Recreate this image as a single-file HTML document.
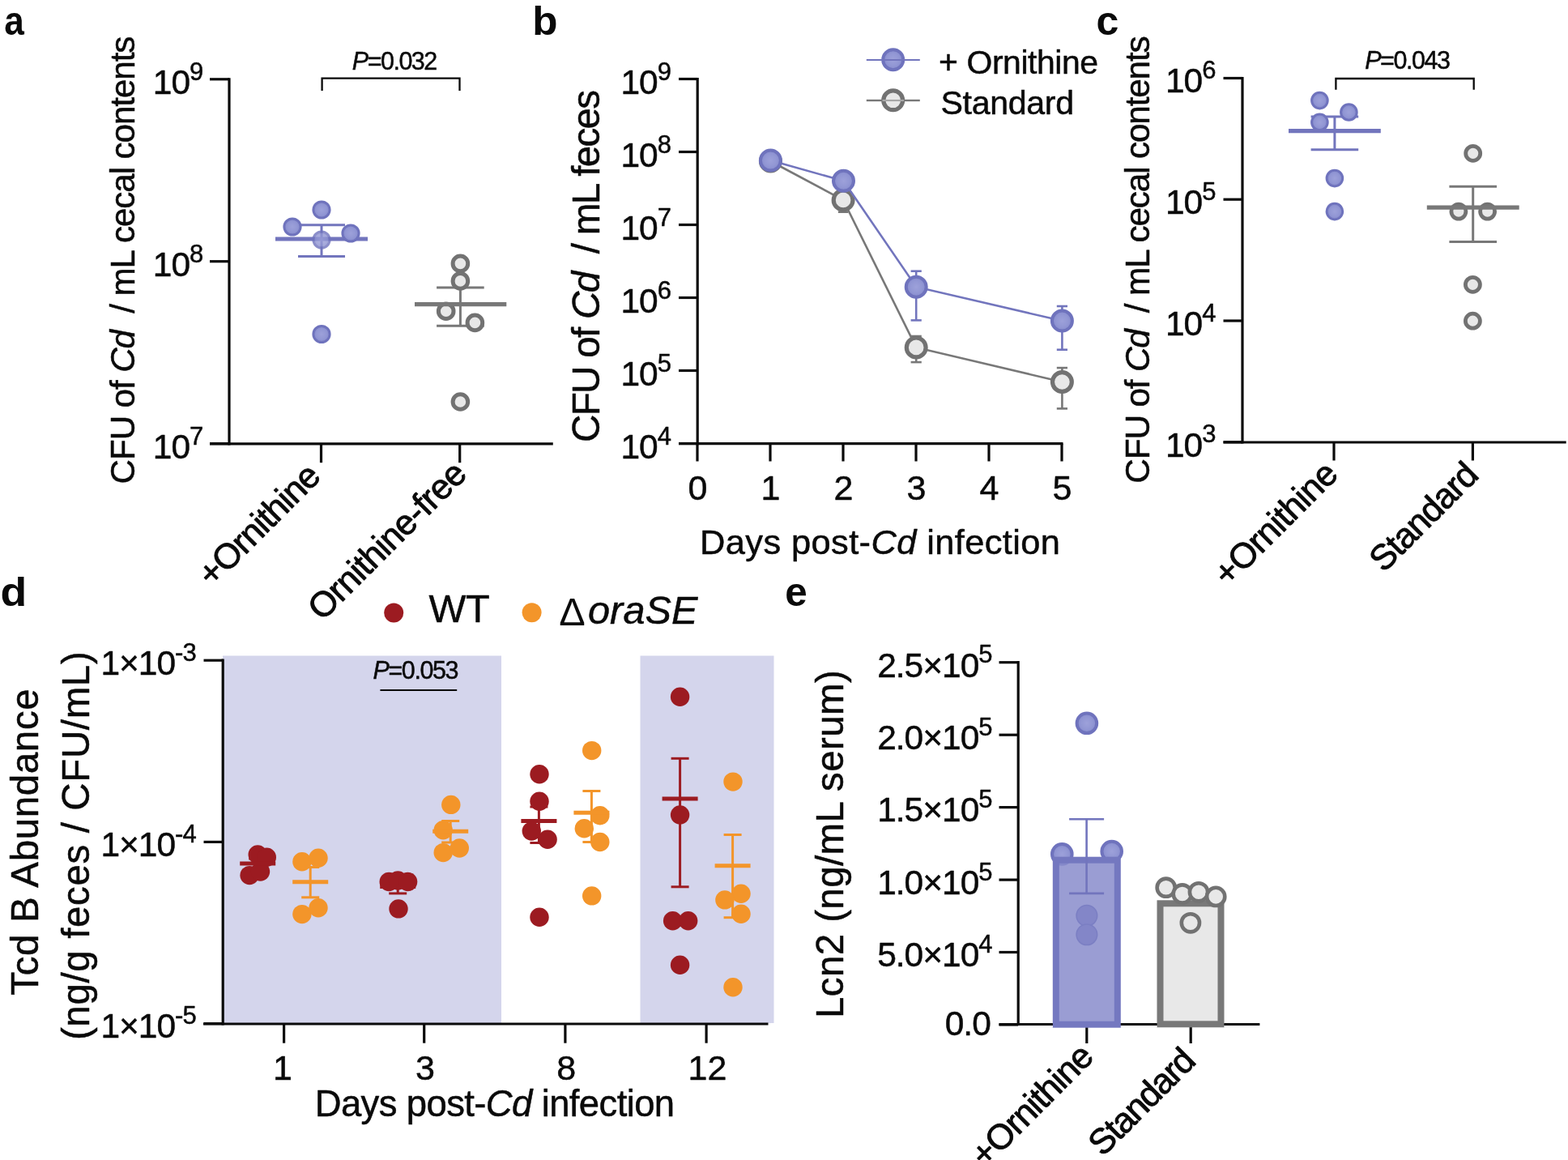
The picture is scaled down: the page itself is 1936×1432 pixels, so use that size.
<!DOCTYPE html>
<html><head><meta charset="utf-8"><title>Figure</title>
<style>html,body{margin:0;padding:0;background:#fff;overflow:hidden;} svg{display:block;} text{font-family:'Liberation Sans', Arial, Helvetica, sans-serif;}</style>
</head><body>
<svg width="1936" height="1432" viewBox="0 0 1936 1432">
<defs><radialGradient id="bg" cx="0.5" cy="0.5" r="0.5"><stop offset="0" stop-color="#9da1da"/><stop offset="0.6" stop-color="#9297d4"/><stop offset="1" stop-color="#868bcd"/></radialGradient></defs>
<rect width="1936" height="1432" fill="#fff"/>
<text  transform="translate(5.30,43.00) scale(0.8878,1.0000)" font-size="49.76" text-anchor="start" font-weight="bold" fill="#0a0a0a">a</text>
<line x1="283.0" y1="96.2" x2="283.0" y2="549.4" stroke="#0a0a0a" stroke-width="3.2" stroke-linecap="butt"/>
<line x1="259.0" y1="97.8" x2="283.0" y2="97.8" stroke="#0a0a0a" stroke-width="3.2" stroke-linecap="butt"/>
<line x1="259.0" y1="322.7" x2="283.0" y2="322.7" stroke="#0a0a0a" stroke-width="3.2" stroke-linecap="butt"/>
<line x1="259.0" y1="547.6" x2="283.0" y2="547.6" stroke="#0a0a0a" stroke-width="3.2" stroke-linecap="butt"/>
<line x1="259.0" y1="547.8" x2="682.8" y2="547.8" stroke="#0a0a0a" stroke-width="3.2" stroke-linecap="butt"/>
<line x1="396.5" y1="547.8" x2="396.5" y2="571.2" stroke="#0a0a0a" stroke-width="3.2" stroke-linecap="butt"/>
<line x1="567.7" y1="547.8" x2="567.7" y2="571.2" stroke="#0a0a0a" stroke-width="3.2" stroke-linecap="butt"/>
<text  transform="translate(250.30,116.10)" font-size="42.50" text-anchor="end" font-weight="normal" fill="#0a0a0a" stroke="#0a0a0a" stroke-width="0.5" stroke-linejoin="round" letter-spacing="-1.000">10<tspan font-size="31" dy="-17.3">9</tspan></text>
<text  transform="translate(250.30,341.00)" font-size="42.50" text-anchor="end" font-weight="normal" fill="#0a0a0a" stroke="#0a0a0a" stroke-width="0.5" stroke-linejoin="round" letter-spacing="-1.000">10<tspan font-size="31" dy="-17.3">8</tspan></text>
<text  transform="translate(250.30,565.90)" font-size="42.50" text-anchor="end" font-weight="normal" fill="#0a0a0a" stroke="#0a0a0a" stroke-width="0.5" stroke-linejoin="round" letter-spacing="-1.000">10<tspan font-size="31" dy="-17.3">7</tspan></text>
<text  transform="translate(165.90,597.40) rotate(-90)" font-size="42.17" text-anchor="start" font-weight="normal" fill="#0a0a0a" stroke="#0a0a0a" stroke-width="0.5" stroke-linejoin="round" xml:space="preserve" letter-spacing="-1.083">CFU of <tspan font-style="italic">Cd</tspan>  / mL cecal contents</text>
<text  transform="translate(397.40,590.70) rotate(-45)" font-size="43.50" text-anchor="end" font-weight="normal" fill="#0a0a0a" stroke="#0a0a0a" stroke-width="0.9" stroke-linejoin="round" letter-spacing="-1.053">+Ornithine</text>
<text  transform="translate(578.00,587.70) rotate(-45)" font-size="43.50" text-anchor="end" font-weight="normal" fill="#0a0a0a" stroke="#0a0a0a" stroke-width="0.9" stroke-linejoin="round" letter-spacing="-0.805">Ornithine-free</text>
<path d="M397.6,112 V96.6 H567.5 V112" fill="none" stroke="#0a0a0a" stroke-width="2.3"/>
<text  transform="translate(486.80,85.50)" font-size="30.50" text-anchor="middle" font-weight="normal" fill="#0a0a0a" stroke="#0a0a0a" stroke-width="0.5" stroke-linejoin="round" letter-spacing="-1.517"><tspan font-style="italic">P</tspan>=0.032</text>
<line x1="397.0" y1="277.7" x2="397.0" y2="316.4" stroke="#7275bd" stroke-width="3" stroke-linecap="butt"/>
<line x1="368.0" y1="277.7" x2="426.0" y2="277.7" stroke="#7275bd" stroke-width="3" stroke-linecap="butt"/>
<line x1="368.0" y1="316.4" x2="426.0" y2="316.4" stroke="#7275bd" stroke-width="3" stroke-linecap="butt"/>
<line x1="340.0" y1="295.0" x2="454.0" y2="295.0" stroke="#7275bd" stroke-width="5.2" stroke-linecap="butt"/>
<circle cx="397.0" cy="259.0" r="10.10" fill="url(#bg)" stroke="#6f73bd" stroke-width="3"/>
<circle cx="361.0" cy="280.0" r="10.10" fill="url(#bg)" stroke="#6f73bd" stroke-width="3"/>
<circle cx="433.0" cy="288.0" r="10.10" fill="url(#bg)" stroke="#6f73bd" stroke-width="3"/>
<circle cx="397.0" cy="412.5" r="10.10" fill="url(#bg)" stroke="#6f73bd" stroke-width="3"/>
<g opacity="0.8">
<circle cx="397.0" cy="296.0" r="10.10" fill="url(#bg)" stroke="#6f73bd" stroke-width="3"/>
</g>
<line x1="568.4" y1="355.0" x2="568.4" y2="402.2" stroke="#787878" stroke-width="3" stroke-linecap="butt"/>
<line x1="539.1" y1="355.0" x2="597.7" y2="355.0" stroke="#787878" stroke-width="3" stroke-linecap="butt"/>
<line x1="539.1" y1="402.2" x2="597.7" y2="402.2" stroke="#787878" stroke-width="3" stroke-linecap="butt"/>
<circle cx="568.4" cy="325.4" r="9.30" fill="#e8e8e8" stroke="#727272" stroke-width="5.0"/>
<circle cx="568.4" cy="346.9" r="9.30" fill="#e8e8e8" stroke="#727272" stroke-width="5.0"/>
<circle cx="550.7" cy="384.2" r="9.30" fill="#e8e8e8" stroke="#727272" stroke-width="5.0"/>
<circle cx="586.4" cy="398.4" r="9.30" fill="#e8e8e8" stroke="#727272" stroke-width="5.0"/>
<circle cx="568.4" cy="496.0" r="9.30" fill="#e8e8e8" stroke="#727272" stroke-width="5.0"/>
<line x1="512.0" y1="375.6" x2="625.3" y2="375.6" stroke="#787878" stroke-width="5.2" stroke-linecap="butt"/>
<text  transform="translate(657.20,43.20) scale(1.0327,1.0000)" font-size="49.56" text-anchor="start" font-weight="bold" fill="#0a0a0a">b</text>
<line x1="861.2" y1="96.0" x2="861.2" y2="549.2" stroke="#0a0a0a" stroke-width="3.2" stroke-linecap="butt"/>
<line x1="838.0" y1="97.5" x2="861.2" y2="97.5" stroke="#0a0a0a" stroke-width="3.2" stroke-linecap="butt"/>
<text  transform="translate(828.00,115.80)" font-size="42.50" text-anchor="end" font-weight="normal" fill="#0a0a0a" stroke="#0a0a0a" stroke-width="0.5" stroke-linejoin="round" letter-spacing="-1.000">10<tspan font-size="31" dy="-17.3">9</tspan></text>
<line x1="838.0" y1="187.5" x2="861.2" y2="187.5" stroke="#0a0a0a" stroke-width="3.2" stroke-linecap="butt"/>
<text  transform="translate(828.00,205.80)" font-size="42.50" text-anchor="end" font-weight="normal" fill="#0a0a0a" stroke="#0a0a0a" stroke-width="0.5" stroke-linejoin="round" letter-spacing="-1.000">10<tspan font-size="31" dy="-17.3">8</tspan></text>
<line x1="838.0" y1="277.5" x2="861.2" y2="277.5" stroke="#0a0a0a" stroke-width="3.2" stroke-linecap="butt"/>
<text  transform="translate(828.00,295.80)" font-size="42.50" text-anchor="end" font-weight="normal" fill="#0a0a0a" stroke="#0a0a0a" stroke-width="0.5" stroke-linejoin="round" letter-spacing="-1.000">10<tspan font-size="31" dy="-17.3">7</tspan></text>
<line x1="838.0" y1="367.5" x2="861.2" y2="367.5" stroke="#0a0a0a" stroke-width="3.2" stroke-linecap="butt"/>
<text  transform="translate(828.00,385.80)" font-size="42.50" text-anchor="end" font-weight="normal" fill="#0a0a0a" stroke="#0a0a0a" stroke-width="0.5" stroke-linejoin="round" letter-spacing="-1.000">10<tspan font-size="31" dy="-17.3">6</tspan></text>
<line x1="838.0" y1="457.5" x2="861.2" y2="457.5" stroke="#0a0a0a" stroke-width="3.2" stroke-linecap="butt"/>
<text  transform="translate(828.00,475.80)" font-size="42.50" text-anchor="end" font-weight="normal" fill="#0a0a0a" stroke="#0a0a0a" stroke-width="0.5" stroke-linejoin="round" letter-spacing="-1.000">10<tspan font-size="31" dy="-17.3">5</tspan></text>
<line x1="838.0" y1="547.5" x2="861.2" y2="547.5" stroke="#0a0a0a" stroke-width="3.2" stroke-linecap="butt"/>
<text  transform="translate(828.00,565.80)" font-size="42.50" text-anchor="end" font-weight="normal" fill="#0a0a0a" stroke="#0a0a0a" stroke-width="0.5" stroke-linejoin="round" letter-spacing="-1.000">10<tspan font-size="31" dy="-17.3">4</tspan></text>
<line x1="838.0" y1="547.6" x2="1312.5" y2="547.6" stroke="#0a0a0a" stroke-width="3.2" stroke-linecap="butt"/>
<line x1="861.0" y1="547.6" x2="861.0" y2="569.5" stroke="#0a0a0a" stroke-width="3.2" stroke-linecap="butt"/>
<text  transform="translate(861.40,617.40)" font-size="43.00" text-anchor="middle" font-weight="normal" fill="#0a0a0a" stroke="#0a0a0a" stroke-width="0.5" stroke-linejoin="round">0</text>
<line x1="951.0" y1="547.6" x2="951.0" y2="569.5" stroke="#0a0a0a" stroke-width="3.2" stroke-linecap="butt"/>
<text  transform="translate(951.40,617.40)" font-size="43.00" text-anchor="middle" font-weight="normal" fill="#0a0a0a" stroke="#0a0a0a" stroke-width="0.5" stroke-linejoin="round">1</text>
<line x1="1041.0" y1="547.6" x2="1041.0" y2="569.5" stroke="#0a0a0a" stroke-width="3.2" stroke-linecap="butt"/>
<text  transform="translate(1041.40,617.40)" font-size="43.00" text-anchor="middle" font-weight="normal" fill="#0a0a0a" stroke="#0a0a0a" stroke-width="0.5" stroke-linejoin="round">2</text>
<line x1="1131.0" y1="547.6" x2="1131.0" y2="569.5" stroke="#0a0a0a" stroke-width="3.2" stroke-linecap="butt"/>
<text  transform="translate(1131.40,617.40)" font-size="43.00" text-anchor="middle" font-weight="normal" fill="#0a0a0a" stroke="#0a0a0a" stroke-width="0.5" stroke-linejoin="round">3</text>
<line x1="1221.0" y1="547.6" x2="1221.0" y2="569.5" stroke="#0a0a0a" stroke-width="3.2" stroke-linecap="butt"/>
<text  transform="translate(1221.40,617.40)" font-size="43.00" text-anchor="middle" font-weight="normal" fill="#0a0a0a" stroke="#0a0a0a" stroke-width="0.5" stroke-linejoin="round">4</text>
<line x1="1311.0" y1="547.6" x2="1311.0" y2="569.5" stroke="#0a0a0a" stroke-width="3.2" stroke-linecap="butt"/>
<text  transform="translate(1311.40,617.40)" font-size="43.00" text-anchor="middle" font-weight="normal" fill="#0a0a0a" stroke="#0a0a0a" stroke-width="0.5" stroke-linejoin="round">5</text>
<text  transform="translate(740.20,546.00) rotate(-90)" font-size="47.64" text-anchor="start" font-weight="normal" fill="#0a0a0a" stroke="#0a0a0a" stroke-width="0.5" stroke-linejoin="round" xml:space="preserve" letter-spacing="-1.708">CFU of <tspan font-style="italic">Cd</tspan>  / mL feces</text>
<text  transform="translate(1086.70,683.90)" font-size="43.43" text-anchor="middle" font-weight="normal" fill="#0a0a0a" stroke="#0a0a0a" stroke-width="0.5" stroke-linejoin="round" letter-spacing="0.381">Days post-<tspan font-style="italic">Cd</tspan> infection</text>
<circle cx="1102.7" cy="73.7" r="12.50" fill="url(#bg)" stroke="#6f73bd" stroke-width="4"/>
<line x1="1069.8" y1="74.0" x2="1135.8" y2="74.0" stroke="#7275bd" stroke-width="2.2" stroke-linecap="butt"/>
<circle cx="1102.7" cy="123.8" r="11.90" fill="#e8e8e8" stroke="#727272" stroke-width="5.2"/>
<line x1="1069.8" y1="124.0" x2="1089.5" y2="124.0" stroke="#787878" stroke-width="2.4" stroke-linecap="butt"/>
<line x1="1116.0" y1="124.0" x2="1135.8" y2="124.0" stroke="#787878" stroke-width="2.4" stroke-linecap="butt"/>
<line x1="1089.5" y1="124.0" x2="1116.0" y2="124.0" stroke="#a8a8a8" stroke-width="2.2" stroke-linecap="butt"/>
<text  transform="translate(1159.10,91.20)" font-size="40.94" text-anchor="start" font-weight="normal" fill="#0a0a0a" stroke="#0a0a0a" stroke-width="0.5" stroke-linejoin="round" letter-spacing="-0.430">+ Ornithine</text>
<text  transform="translate(1161.50,140.70)" font-size="41.14" text-anchor="start" font-weight="normal" fill="#0a0a0a" stroke="#0a0a0a" stroke-width="0.5" stroke-linejoin="round" letter-spacing="-0.344">Standard</text>
<polyline points="951.4,199 1041.1,246.9 1131.2,428.9 1311.4,471.5" fill="none" stroke="#787878" stroke-width="2.6"/>
<line x1="1041.1" y1="236.0" x2="1041.1" y2="261.7" stroke="#787878" stroke-width="2.6" stroke-linecap="butt"/>
<line x1="1034.9" y1="236.0" x2="1047.3" y2="236.0" stroke="#787878" stroke-width="2.6" stroke-linecap="butt"/>
<line x1="1034.9" y1="261.7" x2="1047.3" y2="261.7" stroke="#787878" stroke-width="2.6" stroke-linecap="butt"/>
<line x1="1131.2" y1="415.0" x2="1131.2" y2="447.1" stroke="#787878" stroke-width="2.6" stroke-linecap="butt"/>
<line x1="1124.6" y1="415.0" x2="1137.8" y2="415.0" stroke="#787878" stroke-width="2.6" stroke-linecap="butt"/>
<line x1="1124.6" y1="447.1" x2="1137.8" y2="447.1" stroke="#787878" stroke-width="2.6" stroke-linecap="butt"/>
<line x1="1311.4" y1="454.1" x2="1311.4" y2="504.4" stroke="#787878" stroke-width="2.6" stroke-linecap="butt"/>
<line x1="1304.8" y1="454.1" x2="1318.0" y2="454.1" stroke="#787878" stroke-width="2.6" stroke-linecap="butt"/>
<line x1="1304.8" y1="504.4" x2="1318.0" y2="504.4" stroke="#787878" stroke-width="2.6" stroke-linecap="butt"/>
<circle cx="951.4" cy="199.0" r="11.90" fill="#e8e8e8" stroke="#727272" stroke-width="5.2"/>
<circle cx="1041.1" cy="246.9" r="11.90" fill="#e8e8e8" stroke="#727272" stroke-width="5.2"/>
<circle cx="1131.2" cy="428.9" r="11.90" fill="#e8e8e8" stroke="#727272" stroke-width="5.2"/>
<circle cx="1311.4" cy="471.5" r="11.90" fill="#e8e8e8" stroke="#727272" stroke-width="5.2"/>
<line x1="1131.2" y1="334.7" x2="1131.2" y2="395.4" stroke="#7275bd" stroke-width="2.6" stroke-linecap="butt"/>
<line x1="1124.6" y1="334.7" x2="1137.8" y2="334.7" stroke="#7275bd" stroke-width="2.6" stroke-linecap="butt"/>
<line x1="1124.6" y1="395.4" x2="1137.8" y2="395.4" stroke="#7275bd" stroke-width="2.6" stroke-linecap="butt"/>
<line x1="1311.4" y1="378.0" x2="1311.4" y2="431.7" stroke="#7275bd" stroke-width="2.6" stroke-linecap="butt"/>
<line x1="1304.8" y1="378.0" x2="1318.0" y2="378.0" stroke="#7275bd" stroke-width="2.6" stroke-linecap="butt"/>
<line x1="1304.8" y1="431.7" x2="1318.0" y2="431.7" stroke="#7275bd" stroke-width="2.6" stroke-linecap="butt"/>
<polyline points="951.4,198.1 1041.5,223.3 1131.2,354.2 1311.4,396.1" fill="none" stroke="#7275bd" stroke-width="2.6"/>
<circle cx="951.4" cy="198.1" r="12.50" fill="url(#bg)" stroke="#6f73bd" stroke-width="4"/>
<circle cx="1041.5" cy="223.3" r="12.50" fill="url(#bg)" stroke="#6f73bd" stroke-width="4"/>
<circle cx="1131.2" cy="354.2" r="12.50" fill="url(#bg)" stroke="#6f73bd" stroke-width="4"/>
<circle cx="1311.4" cy="396.1" r="12.50" fill="url(#bg)" stroke="#6f73bd" stroke-width="4"/>
<text  transform="translate(1353.40,43.30) scale(0.9944,1.0000)" font-size="50.32" text-anchor="start" font-weight="bold" fill="#0a0a0a">c</text>
<line x1="1534.0" y1="95.0" x2="1534.0" y2="547.5" stroke="#0a0a0a" stroke-width="3.2" stroke-linecap="butt"/>
<line x1="1510.5" y1="96.5" x2="1534.0" y2="96.5" stroke="#0a0a0a" stroke-width="3.2" stroke-linecap="butt"/>
<text  transform="translate(1500.50,114.40)" font-size="42.50" text-anchor="end" font-weight="normal" fill="#0a0a0a" stroke="#0a0a0a" stroke-width="0.5" stroke-linejoin="round" letter-spacing="-1.000">10<tspan font-size="31" dy="-17.3">6</tspan></text>
<line x1="1510.5" y1="246.2" x2="1534.0" y2="246.2" stroke="#0a0a0a" stroke-width="3.2" stroke-linecap="butt"/>
<text  transform="translate(1500.50,264.15)" font-size="42.50" text-anchor="end" font-weight="normal" fill="#0a0a0a" stroke="#0a0a0a" stroke-width="0.5" stroke-linejoin="round" letter-spacing="-1.000">10<tspan font-size="31" dy="-17.3">5</tspan></text>
<line x1="1510.5" y1="396.0" x2="1534.0" y2="396.0" stroke="#0a0a0a" stroke-width="3.2" stroke-linecap="butt"/>
<text  transform="translate(1500.50,413.90)" font-size="42.50" text-anchor="end" font-weight="normal" fill="#0a0a0a" stroke="#0a0a0a" stroke-width="0.5" stroke-linejoin="round" letter-spacing="-1.000">10<tspan font-size="31" dy="-17.3">4</tspan></text>
<line x1="1510.5" y1="545.8" x2="1534.0" y2="545.8" stroke="#0a0a0a" stroke-width="3.2" stroke-linecap="butt"/>
<text  transform="translate(1500.50,563.65)" font-size="42.50" text-anchor="end" font-weight="normal" fill="#0a0a0a" stroke="#0a0a0a" stroke-width="0.5" stroke-linejoin="round" letter-spacing="-1.000">10<tspan font-size="31" dy="-17.3">3</tspan></text>
<line x1="1510.5" y1="546.0" x2="1933.7" y2="546.0" stroke="#0a0a0a" stroke-width="3.2" stroke-linecap="butt"/>
<line x1="1647.0" y1="546.0" x2="1647.0" y2="568.5" stroke="#0a0a0a" stroke-width="3.2" stroke-linecap="butt"/>
<line x1="1818.4" y1="546.0" x2="1818.4" y2="568.5" stroke="#0a0a0a" stroke-width="3.2" stroke-linecap="butt"/>
<text  transform="translate(1419.10,596.70) rotate(-90)" font-size="42.47" text-anchor="start" font-weight="normal" fill="#0a0a0a" stroke="#0a0a0a" stroke-width="0.5" stroke-linejoin="round" xml:space="preserve" letter-spacing="-1.244">CFU of <tspan font-style="italic">Cd</tspan>  / mL cecal contents</text>
<text  transform="translate(1653.80,588.00) rotate(-45)" font-size="43.50" text-anchor="end" font-weight="normal" fill="#0a0a0a" stroke="#0a0a0a" stroke-width="0.9" stroke-linejoin="round" letter-spacing="-0.739">+Ornithine</text>
<text  transform="translate(1827.00,589.30) rotate(-45)" font-size="43.50" text-anchor="end" font-weight="normal" fill="#0a0a0a" stroke="#0a0a0a" stroke-width="0.9" stroke-linejoin="round" letter-spacing="-1.131">Standard</text>
<path d="M1649.4,110.8 V97 H1819.7 V110.8" fill="none" stroke="#0a0a0a" stroke-width="2.3"/>
<text  transform="translate(1737.30,85.30)" font-size="30.50" text-anchor="middle" font-weight="normal" fill="#0a0a0a" stroke="#0a0a0a" stroke-width="0.5" stroke-linejoin="round" letter-spacing="-1.450"><tspan font-style="italic">P</tspan>=0.043</text>
<line x1="1647.9" y1="144.1" x2="1647.9" y2="184.7" stroke="#7275bd" stroke-width="3" stroke-linecap="butt"/>
<line x1="1618.6" y1="144.1" x2="1677.2" y2="144.1" stroke="#7275bd" stroke-width="3" stroke-linecap="butt"/>
<line x1="1618.6" y1="184.7" x2="1677.2" y2="184.7" stroke="#7275bd" stroke-width="3" stroke-linecap="butt"/>
<circle cx="1629.4" cy="124.1" r="9.80" fill="url(#bg)" stroke="#6f73bd" stroke-width="3"/>
<circle cx="1665.4" cy="138.5" r="9.80" fill="url(#bg)" stroke="#6f73bd" stroke-width="3"/>
<circle cx="1629.4" cy="150.9" r="9.80" fill="url(#bg)" stroke="#6f73bd" stroke-width="3"/>
<circle cx="1647.9" cy="220.1" r="9.80" fill="url(#bg)" stroke="#6f73bd" stroke-width="3"/>
<circle cx="1647.9" cy="261.1" r="9.80" fill="url(#bg)" stroke="#6f73bd" stroke-width="3"/>
<line x1="1591.0" y1="161.6" x2="1704.8" y2="161.6" stroke="#7275bd" stroke-width="5.2" stroke-linecap="butt"/>
<line x1="1818.7" y1="230.3" x2="1818.7" y2="298.6" stroke="#787878" stroke-width="3" stroke-linecap="butt"/>
<line x1="1789.4" y1="230.3" x2="1848.0" y2="230.3" stroke="#787878" stroke-width="3" stroke-linecap="butt"/>
<line x1="1789.4" y1="298.6" x2="1848.0" y2="298.6" stroke="#787878" stroke-width="3" stroke-linecap="butt"/>
<circle cx="1818.7" cy="189.3" r="9.00" fill="#e8e8e8" stroke="#727272" stroke-width="4.8"/>
<circle cx="1800.9" cy="261.1" r="9.00" fill="#e8e8e8" stroke="#727272" stroke-width="4.8"/>
<circle cx="1836.6" cy="261.1" r="9.00" fill="#e8e8e8" stroke="#727272" stroke-width="4.8"/>
<circle cx="1818.4" cy="351.3" r="9.00" fill="#e8e8e8" stroke="#727272" stroke-width="4.8"/>
<circle cx="1818.4" cy="396.2" r="9.00" fill="#e8e8e8" stroke="#727272" stroke-width="4.8"/>
<line x1="1761.8" y1="256.2" x2="1875.7" y2="256.2" stroke="#787878" stroke-width="5.2" stroke-linecap="butt"/>
<text  transform="translate(0.60,747.70) scale(1.0529,1.0000)" font-size="50.82" text-anchor="start" font-weight="bold" fill="#0a0a0a">d</text>
<rect x="275" y="809.5" width="344" height="453.5" fill="#d4d5ec"/>
<rect x="790.5" y="809.5" width="165" height="453.5" fill="#d4d5ec"/>
<line x1="275.2" y1="813.6" x2="275.2" y2="1265.6" stroke="#0a0a0a" stroke-width="3.2" stroke-linecap="butt"/>
<line x1="251.5" y1="815.2" x2="275.2" y2="815.2" stroke="#0a0a0a" stroke-width="3.2" stroke-linecap="butt"/>
<text  transform="translate(241.70,833.00)" font-size="42.50" text-anchor="end" font-weight="normal" fill="#0a0a0a" stroke="#0a0a0a" stroke-width="0.5" stroke-linejoin="round" letter-spacing="-1.000">1×10<tspan font-size="31" dy="-17.3">-3</tspan></text>
<line x1="251.5" y1="1039.4" x2="275.2" y2="1039.4" stroke="#0a0a0a" stroke-width="3.2" stroke-linecap="butt"/>
<text  transform="translate(241.70,1057.20)" font-size="42.50" text-anchor="end" font-weight="normal" fill="#0a0a0a" stroke="#0a0a0a" stroke-width="0.5" stroke-linejoin="round" letter-spacing="-1.000">1×10<tspan font-size="31" dy="-17.3">-4</tspan></text>
<line x1="251.5" y1="1263.6" x2="275.2" y2="1263.6" stroke="#0a0a0a" stroke-width="3.2" stroke-linecap="butt"/>
<text  transform="translate(241.70,1281.40)" font-size="42.50" text-anchor="end" font-weight="normal" fill="#0a0a0a" stroke="#0a0a0a" stroke-width="0.5" stroke-linejoin="round" letter-spacing="-1.000">1×10<tspan font-size="31" dy="-17.3">-5</tspan></text>
<line x1="251.0" y1="1264.0" x2="948.5" y2="1264.0" stroke="#0a0a0a" stroke-width="3.2" stroke-linecap="butt"/>
<line x1="350.6" y1="1264.0" x2="350.6" y2="1287.7" stroke="#0a0a0a" stroke-width="3.2" stroke-linecap="butt"/>
<text  transform="translate(348.90,1333.00)" font-size="43.00" text-anchor="middle" font-weight="normal" fill="#0a0a0a" stroke="#0a0a0a" stroke-width="0.5" stroke-linejoin="round">1</text>
<line x1="523.7" y1="1264.0" x2="523.7" y2="1287.7" stroke="#0a0a0a" stroke-width="3.2" stroke-linecap="butt"/>
<text  transform="translate(525.00,1333.00)" font-size="43.00" text-anchor="middle" font-weight="normal" fill="#0a0a0a" stroke="#0a0a0a" stroke-width="0.5" stroke-linejoin="round">3</text>
<line x1="697.9" y1="1264.0" x2="697.9" y2="1287.7" stroke="#0a0a0a" stroke-width="3.2" stroke-linecap="butt"/>
<text  transform="translate(699.20,1333.00)" font-size="43.00" text-anchor="middle" font-weight="normal" fill="#0a0a0a" stroke="#0a0a0a" stroke-width="0.5" stroke-linejoin="round">8</text>
<line x1="872.1" y1="1264.0" x2="872.1" y2="1287.7" stroke="#0a0a0a" stroke-width="3.2" stroke-linecap="butt"/>
<text  transform="translate(873.40,1333.00)" font-size="43.00" text-anchor="middle" font-weight="normal" fill="#0a0a0a" stroke="#0a0a0a" stroke-width="0.5" stroke-linejoin="round">12</text>
<text  transform="translate(610.60,1377.50)" font-size="45.48" text-anchor="middle" font-weight="normal" fill="#0a0a0a" stroke="#0a0a0a" stroke-width="0.5" stroke-linejoin="round" letter-spacing="-0.622">Days post-<tspan font-style="italic">Cd</tspan> infection</text>
<text  transform="translate(46.90,1228.70) rotate(-90)" font-size="47.50" text-anchor="start" font-weight="normal" fill="#0a0a0a" stroke="#0a0a0a" stroke-width="0.5" stroke-linejoin="round" letter-spacing="0.617">Tcd B Abundance</text>
<text  transform="translate(109.60,1284.10) rotate(-90)" font-size="47.50" text-anchor="start" font-weight="normal" fill="#0a0a0a" stroke="#0a0a0a" stroke-width="0.5" stroke-linejoin="round" letter-spacing="0.630">(ng/g feces / CFU/mL)</text>
<circle cx="486.2" cy="756.4" r="12.00" fill="#9c1b21"/>
<text  transform="translate(529.60,768.40)" font-size="48.63" text-anchor="start" font-weight="normal" fill="#0a0a0a" stroke="#0a0a0a" stroke-width="0.5" stroke-linejoin="round" letter-spacing="-0.470">WT</text>
<circle cx="656.6" cy="756.3" r="12.00" fill="#f3952a"/>
<text  transform="translate(690.30,769.70)" font-size="48.60" text-anchor="start" font-weight="normal" fill="#0a0a0a" stroke="#0a0a0a" stroke-width="0.5" stroke-linejoin="round" letter-spacing="0.140"><tspan dy="2.6" stroke-width="0">Δ</tspan><tspan dy="-2.6" dx="3" font-style="italic">oraSE</tspan></text>
<text  transform="translate(512.80,837.70)" font-size="30.50" text-anchor="middle" font-weight="normal" fill="#0a0a0a" stroke="#0a0a0a" stroke-width="0.5" stroke-linejoin="round" letter-spacing="-1.417"><tspan font-style="italic">P</tspan>=0.053</text>
<line x1="469.4" y1="852.0" x2="564.2" y2="852.0" stroke="#0a0a0a" stroke-width="2.2" stroke-linecap="butt"/>
<line x1="318.2" y1="1060.0" x2="318.2" y2="1072.0" stroke="#9c1b21" stroke-width="3" stroke-linecap="butt"/>
<line x1="307.2" y1="1060.0" x2="329.2" y2="1060.0" stroke="#9c1b21" stroke-width="3" stroke-linecap="butt"/>
<line x1="307.2" y1="1072.0" x2="329.2" y2="1072.0" stroke="#9c1b21" stroke-width="3" stroke-linecap="butt"/>
<circle cx="318.2" cy="1054.9" r="11.70" fill="#9c1b21"/>
<circle cx="329.3" cy="1058.2" r="11.70" fill="#9c1b21"/>
<circle cx="308.1" cy="1080.6" r="11.70" fill="#9c1b21"/>
<circle cx="321.5" cy="1076.0" r="11.70" fill="#9c1b21"/>
<line x1="296.2" y1="1066.0" x2="340.2" y2="1066.0" stroke="#9c1b21" stroke-width="5" stroke-linecap="butt"/>
<line x1="383.2" y1="1070.5" x2="383.2" y2="1107.8" stroke="#f3952a" stroke-width="3" stroke-linecap="butt"/>
<line x1="372.2" y1="1070.5" x2="394.2" y2="1070.5" stroke="#f3952a" stroke-width="3" stroke-linecap="butt"/>
<line x1="372.2" y1="1107.8" x2="394.2" y2="1107.8" stroke="#f3952a" stroke-width="3" stroke-linecap="butt"/>
<circle cx="372.9" cy="1063.8" r="11.70" fill="#f3952a"/>
<circle cx="393.0" cy="1059.3" r="11.70" fill="#f3952a"/>
<circle cx="372.9" cy="1128.6" r="11.70" fill="#f3952a"/>
<circle cx="393.0" cy="1120.8" r="11.70" fill="#f3952a"/>
<line x1="361.2" y1="1088.8" x2="405.2" y2="1088.8" stroke="#f3952a" stroke-width="5" stroke-linecap="butt"/>
<line x1="491.2" y1="1090.0" x2="491.2" y2="1102.9" stroke="#9c1b21" stroke-width="3" stroke-linecap="butt"/>
<line x1="480.2" y1="1090.0" x2="502.2" y2="1090.0" stroke="#9c1b21" stroke-width="3" stroke-linecap="butt"/>
<line x1="480.2" y1="1102.9" x2="502.2" y2="1102.9" stroke="#9c1b21" stroke-width="3" stroke-linecap="butt"/>
<circle cx="480.2" cy="1088.5" r="11.70" fill="#9c1b21"/>
<circle cx="491.3" cy="1087.0" r="11.70" fill="#9c1b21"/>
<circle cx="503.6" cy="1088.5" r="11.70" fill="#9c1b21"/>
<circle cx="492.0" cy="1121.9" r="11.70" fill="#9c1b21"/>
<line x1="469.2" y1="1094.5" x2="513.2" y2="1094.5" stroke="#9c1b21" stroke-width="5" stroke-linecap="butt"/>
<line x1="556.2" y1="1013.5" x2="556.2" y2="1040.0" stroke="#f3952a" stroke-width="3" stroke-linecap="butt"/>
<line x1="545.2" y1="1013.5" x2="567.2" y2="1013.5" stroke="#f3952a" stroke-width="3" stroke-linecap="butt"/>
<line x1="545.2" y1="1040.0" x2="567.2" y2="1040.0" stroke="#f3952a" stroke-width="3" stroke-linecap="butt"/>
<circle cx="556.8" cy="993.4" r="11.70" fill="#f3952a"/>
<circle cx="547.2" cy="1024.7" r="11.70" fill="#f3952a"/>
<circle cx="547.2" cy="1052.6" r="11.70" fill="#f3952a"/>
<circle cx="567.3" cy="1047.0" r="11.70" fill="#f3952a"/>
<line x1="534.2" y1="1026.3" x2="578.2" y2="1026.3" stroke="#f3952a" stroke-width="5" stroke-linecap="butt"/>
<line x1="665.4" y1="996.0" x2="665.4" y2="1040.5" stroke="#9c1b21" stroke-width="3" stroke-linecap="butt"/>
<line x1="654.4" y1="996.0" x2="676.4" y2="996.0" stroke="#9c1b21" stroke-width="3" stroke-linecap="butt"/>
<line x1="654.4" y1="1040.5" x2="676.4" y2="1040.5" stroke="#9c1b21" stroke-width="3" stroke-linecap="butt"/>
<circle cx="666.0" cy="955.7" r="11.70" fill="#9c1b21"/>
<circle cx="666.0" cy="989.2" r="11.70" fill="#9c1b21"/>
<circle cx="656.3" cy="1026.1" r="11.70" fill="#9c1b21"/>
<circle cx="676.1" cy="1036.2" r="11.70" fill="#9c1b21"/>
<circle cx="666.0" cy="1132.3" r="11.70" fill="#9c1b21"/>
<line x1="643.4" y1="1013.4" x2="687.4" y2="1013.4" stroke="#9c1b21" stroke-width="5" stroke-linecap="butt"/>
<line x1="730.4" y1="976.5" x2="730.4" y2="1039.5" stroke="#f3952a" stroke-width="3" stroke-linecap="butt"/>
<line x1="719.4" y1="976.5" x2="741.4" y2="976.5" stroke="#f3952a" stroke-width="3" stroke-linecap="butt"/>
<line x1="719.4" y1="1039.5" x2="741.4" y2="1039.5" stroke="#f3952a" stroke-width="3" stroke-linecap="butt"/>
<circle cx="730.7" cy="926.6" r="11.70" fill="#f3952a"/>
<circle cx="740.8" cy="1006.7" r="11.70" fill="#f3952a"/>
<circle cx="721.3" cy="1022.7" r="11.70" fill="#f3952a"/>
<circle cx="740.8" cy="1039.5" r="11.70" fill="#f3952a"/>
<circle cx="730.7" cy="1105.9" r="11.70" fill="#f3952a"/>
<line x1="708.4" y1="1003.3" x2="752.4" y2="1003.3" stroke="#f3952a" stroke-width="5" stroke-linecap="butt"/>
<line x1="839.6" y1="936.3" x2="839.6" y2="1094.8" stroke="#9c1b21" stroke-width="3" stroke-linecap="butt"/>
<line x1="828.6" y1="936.3" x2="850.6" y2="936.3" stroke="#9c1b21" stroke-width="3" stroke-linecap="butt"/>
<line x1="828.6" y1="1094.8" x2="850.6" y2="1094.8" stroke="#9c1b21" stroke-width="3" stroke-linecap="butt"/>
<circle cx="839.6" cy="860.2" r="11.70" fill="#9c1b21"/>
<circle cx="839.6" cy="1006.0" r="11.70" fill="#9c1b21"/>
<circle cx="830.6" cy="1136.7" r="11.70" fill="#9c1b21"/>
<circle cx="849.7" cy="1136.7" r="11.70" fill="#9c1b21"/>
<circle cx="839.6" cy="1191.3" r="11.70" fill="#9c1b21"/>
<line x1="817.6" y1="985.9" x2="861.6" y2="985.9" stroke="#9c1b21" stroke-width="5" stroke-linecap="butt"/>
<line x1="904.6" y1="1030.5" x2="904.6" y2="1132.7" stroke="#f3952a" stroke-width="3" stroke-linecap="butt"/>
<line x1="893.6" y1="1030.5" x2="915.6" y2="1030.5" stroke="#f3952a" stroke-width="3" stroke-linecap="butt"/>
<line x1="893.6" y1="1132.7" x2="915.6" y2="1132.7" stroke="#f3952a" stroke-width="3" stroke-linecap="butt"/>
<circle cx="905.0" cy="965.1" r="11.70" fill="#f3952a"/>
<circle cx="915.0" cy="1103.2" r="11.70" fill="#f3952a"/>
<circle cx="894.9" cy="1110.9" r="11.70" fill="#f3952a"/>
<circle cx="915.0" cy="1128.3" r="11.70" fill="#f3952a"/>
<circle cx="905.0" cy="1218.8" r="11.70" fill="#f3952a"/>
<line x1="882.6" y1="1068.7" x2="926.6" y2="1068.7" stroke="#f3952a" stroke-width="5" stroke-linecap="butt"/>
<text  transform="translate(969.30,747.50) scale(0.9720,1.0000)" font-size="50.86" text-anchor="start" font-weight="bold" fill="#0a0a0a">e</text>
<line x1="1257.2" y1="816.0" x2="1257.2" y2="1266.1" stroke="#0a0a0a" stroke-width="3.2" stroke-linecap="butt"/>
<line x1="1233.5" y1="817.7" x2="1257.2" y2="817.7" stroke="#0a0a0a" stroke-width="3.2" stroke-linecap="butt"/>
<text  transform="translate(1224.60,835.50)" font-size="42.50" text-anchor="end" font-weight="normal" fill="#0a0a0a" stroke="#0a0a0a" stroke-width="0.5" stroke-linejoin="round" letter-spacing="-1.000">2.5×10<tspan font-size="31" dy="-17.3">5</tspan></text>
<line x1="1233.5" y1="907.2" x2="1257.2" y2="907.2" stroke="#0a0a0a" stroke-width="3.2" stroke-linecap="butt"/>
<text  transform="translate(1224.60,924.95)" font-size="42.50" text-anchor="end" font-weight="normal" fill="#0a0a0a" stroke="#0a0a0a" stroke-width="0.5" stroke-linejoin="round" letter-spacing="-1.000">2.0×10<tspan font-size="31" dy="-17.3">5</tspan></text>
<line x1="1233.5" y1="996.6" x2="1257.2" y2="996.6" stroke="#0a0a0a" stroke-width="3.2" stroke-linecap="butt"/>
<text  transform="translate(1224.60,1014.40)" font-size="42.50" text-anchor="end" font-weight="normal" fill="#0a0a0a" stroke="#0a0a0a" stroke-width="0.5" stroke-linejoin="round" letter-spacing="-1.000">1.5×10<tspan font-size="31" dy="-17.3">5</tspan></text>
<line x1="1233.5" y1="1086.1" x2="1257.2" y2="1086.1" stroke="#0a0a0a" stroke-width="3.2" stroke-linecap="butt"/>
<text  transform="translate(1224.60,1103.85)" font-size="42.50" text-anchor="end" font-weight="normal" fill="#0a0a0a" stroke="#0a0a0a" stroke-width="0.5" stroke-linejoin="round" letter-spacing="-1.000">1.0×10<tspan font-size="31" dy="-17.3">5</tspan></text>
<line x1="1233.5" y1="1175.5" x2="1257.2" y2="1175.5" stroke="#0a0a0a" stroke-width="3.2" stroke-linecap="butt"/>
<text  transform="translate(1224.60,1193.30)" font-size="42.50" text-anchor="end" font-weight="normal" fill="#0a0a0a" stroke="#0a0a0a" stroke-width="0.5" stroke-linejoin="round" letter-spacing="-1.000">5.0×10<tspan font-size="31" dy="-17.3">4</tspan></text>
<line x1="1233.5" y1="1265.0" x2="1257.2" y2="1265.0" stroke="#0a0a0a" stroke-width="3.2" stroke-linecap="butt"/>
<text  transform="translate(1222.80,1277.90)" font-size="42.50" text-anchor="end" font-weight="normal" fill="#0a0a0a" stroke="#0a0a0a" stroke-width="0.5" stroke-linejoin="round" letter-spacing="-1.000">0.0</text>
<line x1="1233.5" y1="1264.5" x2="1555.4" y2="1264.5" stroke="#0a0a0a" stroke-width="3.2" stroke-linecap="butt"/>
<line x1="1341.8" y1="1264.5" x2="1341.8" y2="1288.0" stroke="#0a0a0a" stroke-width="3.2" stroke-linecap="butt"/>
<line x1="1470.2" y1="1264.5" x2="1470.2" y2="1288.0" stroke="#0a0a0a" stroke-width="3.2" stroke-linecap="butt"/>
<text  transform="translate(1040.50,1257.00) rotate(-90)" font-size="47.50" text-anchor="start" font-weight="normal" fill="#0a0a0a" stroke="#0a0a0a" stroke-width="0.5" stroke-linejoin="round" letter-spacing="0.388">Lcn2 (ng/mL serum)</text>
<text  transform="translate(1352.00,1307.20) rotate(-45)" font-size="43.50" text-anchor="end" font-weight="normal" fill="#0a0a0a" stroke="#0a0a0a" stroke-width="0.9" stroke-linejoin="round" letter-spacing="-1.021">+Ornithine</text>
<text  transform="translate(1477.60,1312.70) rotate(-45)" font-size="43.50" text-anchor="end" font-weight="normal" fill="#0a0a0a" stroke="#0a0a0a" stroke-width="0.9" stroke-linejoin="round" letter-spacing="-1.556">Standard</text>
<circle cx="1311.3" cy="1054.4" r="12.30" fill="url(#bg)" stroke="#6f73bd" stroke-width="4"/>
<circle cx="1372.7" cy="1051.0" r="12.30" fill="url(#bg)" stroke="#6f73bd" stroke-width="4"/>
<rect x="1303.8" y="1061.7" width="76" height="203" fill="#888ccb" fill-opacity="0.85" stroke="#7478c0" stroke-width="8"/>
<circle cx="1341.9" cy="1130.3" r="12.80" fill="#8386c8" stroke="#7b7fc3" stroke-width="1.5"/>
<circle cx="1341.9" cy="1153.8" r="12.80" fill="#8386c8" stroke="#7b7fc3" stroke-width="1.5"/>
<line x1="1341.6" y1="1011.2" x2="1341.6" y2="1102.9" stroke="#7275bd" stroke-width="2.6" stroke-linecap="butt"/>
<line x1="1320.1" y1="1011.2" x2="1363.1" y2="1011.2" stroke="#7275bd" stroke-width="2.6" stroke-linecap="butt"/>
<line x1="1320.1" y1="1102.9" x2="1363.1" y2="1102.9" stroke="#7275bd" stroke-width="2.6" stroke-linecap="butt"/>
<circle cx="1341.9" cy="892.8" r="12.30" fill="url(#bg)" stroke="#6f73bd" stroke-width="4"/>
<rect x="1432.5" y="1115.3" width="75" height="149" fill="#e8e8e8" stroke="#787878" stroke-width="8"/>
<circle cx="1439.7" cy="1095.7" r="11.10" fill="#e8e8e8" stroke="#727272" stroke-width="4.6"/>
<circle cx="1459.8" cy="1103.5" r="11.10" fill="#e8e8e8" stroke="#727272" stroke-width="4.6"/>
<circle cx="1480.0" cy="1101.3" r="11.10" fill="#e8e8e8" stroke="#727272" stroke-width="4.6"/>
<circle cx="1501.2" cy="1106.9" r="11.10" fill="#e8e8e8" stroke="#727272" stroke-width="4.6"/>
<circle cx="1469.9" cy="1139.3" r="11.10" fill="#e8e8e8" stroke="#727272" stroke-width="4.6"/>
</svg>
</body></html>
